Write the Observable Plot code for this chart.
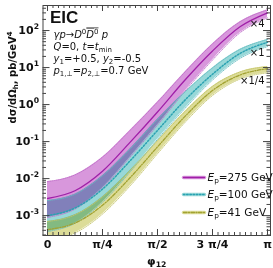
<!DOCTYPE html>
<html><head><meta charset="utf-8">
<script src="https://cdn.jsdelivr.net/npm/d3@7"></script>
<script src="https://cdn.jsdelivr.net/npm/@observablehq/plot@0.6"></script>
<style>body{margin:0;background:#fff} svg{display:block}</style>
</head><body><div id="chart"></div>
<script>
// phi_12 in units of pi
const phiOverPi = [0, 0.125, 0.25, 0.375, 0.5, 0.625, 0.75, 0.875, 1];
// E_p = 275 GeV (x4)
const ep275Mid = [2.9e-3, 4.7e-3, 0.0158, 0.095, 0.63, 4.6, 28, 126, 300];
const ep275Hi  = [8.3e-3, 0.0126, 0.038, 0.2, 1.17, 7.6, 43.6, 172, 363];
const ep275Lo  = [8.9e-4, 1.5e-3, 5.6e-3, 0.038, 0.28, 2.3, 16, 87, 221];
// E_p = 100 GeV (x1)
const ep100Mid = [1.0e-3, 1.6e-3, 5.2e-3, 0.030, 0.20, 1.32, 6.6, 24, 48];
const ep100Hi  = [2.54e-3, 3.8e-3, 0.012, 0.063, 0.40, 2.2, 9.8, 31, 57.5];
const ep100Lo  = [3.7e-4, 6.2e-4, 2.3e-3, 0.015, 0.115, 0.79, 4.6, 17.6, 37];
// E_p = 41 GeV (x1/4)
const ep41Mid = [4.2e-4, 6.3e-4, 1.9e-3, 0.0105, 0.072, 0.48, 2.4, 6.3, 9.3];
const ep41Hi  = [6.9e-4, 1.05e-3, 3.2e-3, 0.0162, 0.105, 0.65, 3.1, 7.6, 10.6];
const ep41Lo  = [2.2e-4, 3.4e-4, 1.1e-3, 6.3e-3, 0.047, 0.33, 1.76, 4.9, 7.2];

const xTickVals = [0, 0.25, 0.5, 0.75, 1];
const xTickLabels = ["0", "π/4", "π/2", "3 π/4", "π"];
const yTickVals = [1e-3, 1e-2, 1e-1, 1, 10, 100];
const yTickLabels = ["10^{-3}", "10^{-2}", "10^{-1}", "10^{0}", "10^{1}", "10^{2}"];
const legendLabels = ["*{E}_{p}=275 GeV", "*{E}_{p}=100 GeV", "*{E}_{p}=41 GeV"];
const scaleLabels = ["×4", "×1", "×1/4"];
const infoLines = "*{γp}→*{D}^{0}~{*{D}^{0}} *{p}\n*{Q}=0, *{t}=*{t}_{min}\n*{y}_{1}=+0.5, *{y}_{2}=-0.5\n*{p}_{1,⊥}=*{p}_{2,⊥}=0.7 GeV";

const series = [
  {name: "275", mid: ep275Mid, hi: ep275Hi, lo: ep275Lo, band: "#d897dc", edge: "#c070c8", line: "#a01fa8", dash: null, width: 1.3},
  {name: "100", mid: ep100Mid, hi: ep100Hi, lo: ep100Lo, band: "#98d8d8", edge: "#66bcc2", line: "#2aa2b2", dash: "1.4,1.8", width: 1.5},
  {name: "41",  mid: ep41Mid,  hi: ep41Hi,  lo: ep41Lo,  band: "#dcdc98", edge: "#c4c46a", line: "#a2a232", dash: "3.5,1.5,1,1.5", width: 1.3}
];
const rowsOf = s => phiOverPi.map((p, i) => ({phi: p, mid: s.mid[i], hi: s.hi[i], lo: s.lo[i]}));

const W = 273, H = 268;
const mL = 42.5, mR = 3, mT = 5, mB = 33;
const fw = W - mL - mR, fh = H - mT - mB;

const xMinor = d3.range(0, 40.5).map(k => k / 40);
const yMinor = [];
for (let e = -4; e <= 2; e++) for (let m = 2; m <= 9; m++) yMinor.push(m * 10 ** e);
const inY = v => v >= 2.9e-4 && v <= 475;

const curve = "monotone-x";
const marks = [];
for (const s of series) {
  marks.push(Plot.areaY(rowsOf(s), {x: "phi", y1: "lo", y2: "hi", fill: s.band, curve, clip: true}));
}
for (const s of series) {
  const rows = rowsOf(s);
  marks.push(Plot.lineY(rows, {x: "phi", y: "hi", stroke: s.edge, strokeWidth: 0.9, strokeDasharray: "1,1.2", curve, clip: true}));
  marks.push(Plot.lineY(rows, {x: "phi", y: "lo", stroke: s.edge, strokeWidth: 0.9, strokeDasharray: "1,1.2", curve, clip: true}));
}
for (const s of series) {
  marks.push(Plot.lineY(rowsOf(s), {x: "phi", y: "mid", stroke: s.line, strokeWidth: s.width, strokeDasharray: s.dash, curve, clip: true}));
}
// ticks (inward, all four sides)
const tcol = "#444";
marks.push(
  Plot.tickX(xTickVals, {x: d => d, insetTop: fh - 6, stroke: tcol}),
  Plot.tickX(xMinor, {x: d => d, insetTop: fh - 3, stroke: tcol}),
  Plot.tickX(xTickVals, {x: d => d, insetBottom: fh - 6, stroke: tcol}),
  Plot.tickX(xMinor, {x: d => d, insetBottom: fh - 3, stroke: tcol}),
  Plot.tickY(yTickVals, {y: d => d, insetRight: fw - 7, stroke: tcol}),
  Plot.tickY(yMinor.filter(inY), {y: d => d, insetRight: fw - 3.5, stroke: tcol}),
  Plot.tickY(yTickVals, {y: d => d, insetLeft: fw - 7, stroke: tcol}),
  Plot.tickY(yMinor.filter(inY), {y: d => d, insetLeft: fw - 3.5, stroke: tcol}),
  Plot.frame({stroke: tcol, strokeWidth: 1})
);
// tick labels
marks.push(
  Plot.text(xTickVals, {x: d => d, frameAnchor: "bottom", dy: 5, lineAnchor: "top", text: (d, i) => xTickLabels[i], fontWeight: "bold", fontSize: 11, fill: "#111"}),
  Plot.text(yTickVals, {y: d => d, frameAnchor: "left", dx: -4, textAnchor: "end", lineAnchor: "middle", text: (d, i) => yTickLabels[i], fontWeight: "bold", fontSize: 11, fill: "#111"})
);
// axis titles
marks.push(
  Plot.text(["φ_{12}"], {frameAnchor: "bottom", dy: 26, fontWeight: "bold", fontSize: 11, lineAnchor: "middle"}),
  Plot.text(["dσ/dΩ_{h}, pb/GeV^{4}"], {frameAnchor: "left", dx: -30, dy: 3, rotate: -90, fontWeight: "bold", fontSize: 10, lineAnchor: "middle"})
);
// annotations
marks.push(
  Plot.text(["EIC"], {frameAnchor: "top-left", dx: 7, dy: 17, lineAnchor: "bottom", textAnchor: "start", fontWeight: "bold", fontSize: 17, fontFamily: "Liberation Sans, Arial, sans-serif"}),
  Plot.text([infoLines], {frameAnchor: "top-left", dx: 10.5, dy: 23.5, lineAnchor: "top", lineHeight: 1.2, textAnchor: "start", fontSize: 10})
);
const scaleDy = [18, 47, 75];
scaleLabels.forEach((t, i) => marks.push(Plot.text([t], {frameAnchor: "top-right", dx: -6, dy: scaleDy[i], textAnchor: "end", lineAnchor: "middle", fontSize: 10})));
// legend
const legDy = [-58, -41, -23];
const lineShape = {draw(ctx, l) { ctx.moveTo(0, 0); ctx.lineTo(0, -l); }};
series.forEach((s, i) => {
  marks.push(Plot.vector([0], {frameAnchor: "bottom-right", dx: -87, dy: legDy[i], length: 21, rotate: 90, anchor: "start", shape: lineShape, stroke: s.band, strokeWidth: 3.5}));
  marks.push(Plot.vector([0], {frameAnchor: "bottom-right", dx: -87, dy: legDy[i], length: 21, rotate: 90, anchor: "start", shape: lineShape, stroke: s.line, strokeWidth: s.width, strokeDasharray: s.dash}));
  marks.push(Plot.text([legendLabels[i]], {frameAnchor: "bottom-right", dx: -63, dy: legDy[i], textAnchor: "start", lineAnchor: "middle", fontSize: 10.5}));
});

const chart = Plot.plot({
  width: W, height: H,
  marginLeft: mL, marginRight: mR, marginTop: mT, marginBottom: mB,
  style: {fontFamily: "DejaVu Sans, sans-serif", background: "#fff", color: "#111"},
  x: {domain: [-0.0204, 1.0136], axis: null},
  y: {type: "log", domain: [2.9e-4, 475], axis: null},
  marks
});

// bands blend multiplicatively where they overlap
chart.querySelectorAll('g[aria-label="area"], g[aria-label="area"] path').forEach(el => { el.style.mixBlendMode = "multiply"; });

// rich text: _{sub} ^{sup} ~{overline} *{italic}
const NS = "http://www.w3.org/2000/svg";
function build(parent, s) {
  let i = 0, buf = "";
  const flush = () => { if (buf) { parent.appendChild(document.createTextNode(buf)); buf = ""; } };
  while (i < s.length) {
    const c = s[i];
    if ("_^~*".includes(c) && s[i + 1] === "{") {
      let depth = 0, j = i + 1;
      for (; j < s.length; j++) { if (s[j] === "{") depth++; else if (s[j] === "}") { depth--; if (!depth) break; } }
      const inner = s.slice(i + 2, j);
      flush();
      const ts = document.createElementNS(NS, "tspan");
      if (c === "_") { ts.setAttribute("font-size", "70%"); ts.setAttribute("baseline-shift", "-0.25em"); }
      else if (c === "^") { ts.setAttribute("font-size", "70%"); ts.setAttribute("baseline-shift", "0.6em"); }
      else if (c === "~") { ts.setAttribute("text-decoration", "overline"); ts.style.textDecoration = "overline"; }
      else if (c === "*") { ts.setAttribute("font-style", "italic"); }
      build(ts, inner);
      parent.appendChild(ts);
      i = j + 1;
    } else { buf += c; i++; }
  }
  flush();
}
chart.querySelectorAll("text").forEach(t => {
  const spans = t.querySelectorAll("tspan");
  const targets = spans.length ? [...spans] : [t];
  for (const el of targets) {
    const s = el.textContent;
    if (!/[_^~*]\{/.test(s)) continue;
    el.textContent = "";
    build(el, s);
  }
});
document.getElementById("chart").appendChild(chart);
</script>
</body></html>
